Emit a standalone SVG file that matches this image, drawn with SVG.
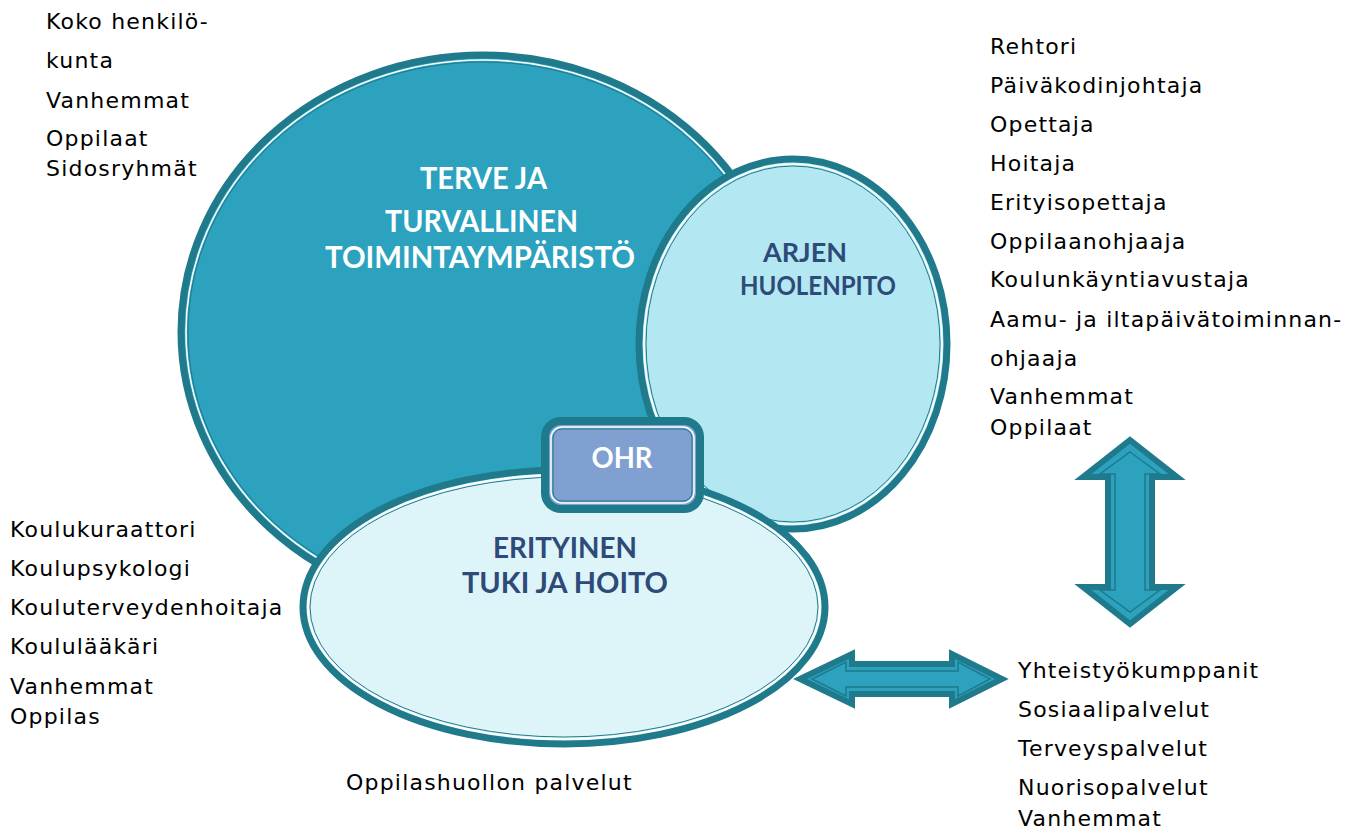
<svg xmlns="http://www.w3.org/2000/svg" width="1370" height="829" viewBox="0 0 1370 829">
<style>
.lst{font-family:"DejaVu Sans",Verdana,sans-serif;font-size:22px;letter-spacing:1.2px;fill:#000}
.hd{font-family:Lato,"Open Sans",sans-serif;font-weight:700;font-size:30px;text-anchor:middle}
.hs{font-size:28px}
.ha{font-size:26px}
.w{fill:#fff}
.n{fill:#2d4a78}
.outer{stroke:#1f7a8c;stroke-width:7}
.wl{fill:none;stroke:#fff;stroke-width:1.6}
.dl{fill:none;stroke:#1f7a8c;stroke-width:1}
.arr{fill:#2ca2be;stroke:#1f7a8c;stroke-width:6;stroke-linejoin:miter}
.arrin{fill:none;stroke:#1f7a8c;stroke-width:1.5}
</style>
<rect width="1370" height="829" fill="#fff"/>
<g id="terve">
<ellipse cx="483" cy="332" rx="302" ry="277" fill="#2ca2be" class="outer"/>
<ellipse cx="483" cy="332" rx="297" ry="272" class="wl"/>
<ellipse cx="483" cy="332" rx="295" ry="270" class="dl"/>
<text class="hd w" x="483.5" y="189" textLength="127" lengthAdjust="spacingAndGlyphs">TERVE JA</text>
<text class="hd w" x="481.5" y="232" textLength="193" lengthAdjust="spacingAndGlyphs">TURVALLINEN</text>
<text class="hd w" x="480" y="268" textLength="310" lengthAdjust="spacingAndGlyphs">TOIMINTAYMPÄRISTÖ</text>
</g>
<g id="arjen">
<ellipse cx="793" cy="344" rx="154" ry="185" fill="#b3e8f2" class="outer"/>
<ellipse cx="793" cy="344" rx="149" ry="180" class="wl"/>
<ellipse cx="793" cy="344" rx="147" ry="178" class="dl"/>
<text class="hd ha n" x="805" y="262" textLength="84" lengthAdjust="spacingAndGlyphs">ARJEN</text>
<text class="hd ha n" x="818" y="295" textLength="156" lengthAdjust="spacingAndGlyphs">HUOLENPITO</text>
</g>
<g id="erityinen">
<ellipse cx="564" cy="607" rx="261" ry="137" fill="#ddf4f9" class="outer"/>
<ellipse cx="564" cy="607" rx="256" ry="132" class="wl"/>
<ellipse cx="564" cy="607" rx="254" ry="130" class="dl"/>
<text class="hd hs n" x="565" y="558" textLength="144" lengthAdjust="spacingAndGlyphs">ERITYINEN</text>
<text class="hd hs n" x="565" y="593" textLength="206" lengthAdjust="spacingAndGlyphs">TUKI JA HOITO</text>
</g>
<g id="ohr">
<rect x="545" y="421" width="155" height="88" rx="16" fill="#7fa0d0" stroke="#1f7a8c" stroke-width="8"/>
<rect x="551" y="427" width="143" height="76" rx="11" fill="none" stroke="#fff" stroke-width="1.5"/>
<rect x="553" y="429" width="139" height="72" rx="9" fill="none" stroke="#1f7a8c" stroke-width="1"/>
<text class="hd hs w" x="622" y="468" textLength="61" lengthAdjust="spacingAndGlyphs">OHR</text>
</g>
<g id="connectors">
<polygon class="arr" points="1130,440 1177,477 1152,477 1152,587 1177,587 1130,624 1083,587 1108,587 1108,477 1083,477"/>
<polygon class="arrin" points="1130,452 1160,474 1145,474 1145,590 1160,590 1130,612 1100,590 1115,590 1115,474 1100,474"/>
<polygon class="arr" points="800,679 852,654 852,664 952,664 952,654 1002,679 952,704 952,694 852,694 852,704"/>
<polygon class="arrin" points="812,679 846,662 846,671 958,671 958,662 990,679 958,696 958,687 846,687 846,696"/>
</g>
<g id="lists">
<text class="lst" x="46" y="29">Koko henkilö-</text>
<text class="lst" x="46" y="68">kunta</text>
<text class="lst" x="46" y="108">Vanhemmat</text>
<text class="lst" x="46" y="146">Oppilaat</text>
<text class="lst" x="46" y="176">Sidosryhmät</text>
<text class="lst" x="990" y="54">Rehtori</text>
<text class="lst" x="990" y="93">Päiväkodinjohtaja</text>
<text class="lst" x="990" y="132">Opettaja</text>
<text class="lst" x="990" y="171">Hoitaja</text>
<text class="lst" x="990" y="210">Erityisopettaja</text>
<text class="lst" x="990" y="249">Oppilaanohjaaja</text>
<text class="lst" x="990" y="287">Koulunkäyntiavustaja</text>
<text class="lst" x="990" y="327">Aamu- ja iltapäivätoiminnan-</text>
<text class="lst" x="990" y="366">ohjaaja</text>
<text class="lst" x="990" y="404">Vanhemmat</text>
<text class="lst" x="990" y="435">Oppilaat</text>
<text class="lst" x="10" y="537">Koulukuraattori</text>
<text class="lst" x="10" y="576">Koulupsykologi</text>
<text class="lst" x="10" y="615">Kouluterveydenhoitaja</text>
<text class="lst" x="10" y="654">Koululääkäri</text>
<text class="lst" x="10" y="694">Vanhemmat</text>
<text class="lst" x="10" y="724">Oppilas</text>
<text class="lst" x="346" y="790">Oppilashuollon palvelut</text>
<text class="lst" x="1018" y="678">Yhteistyökumppanit</text>
<text class="lst" x="1018" y="717">Sosiaalipalvelut</text>
<text class="lst" x="1018" y="756">Terveyspalvelut</text>
<text class="lst" x="1018" y="795">Nuorisopalvelut</text>
<text class="lst" x="1018" y="826">Vanhemmat</text>
</g>
</svg>
